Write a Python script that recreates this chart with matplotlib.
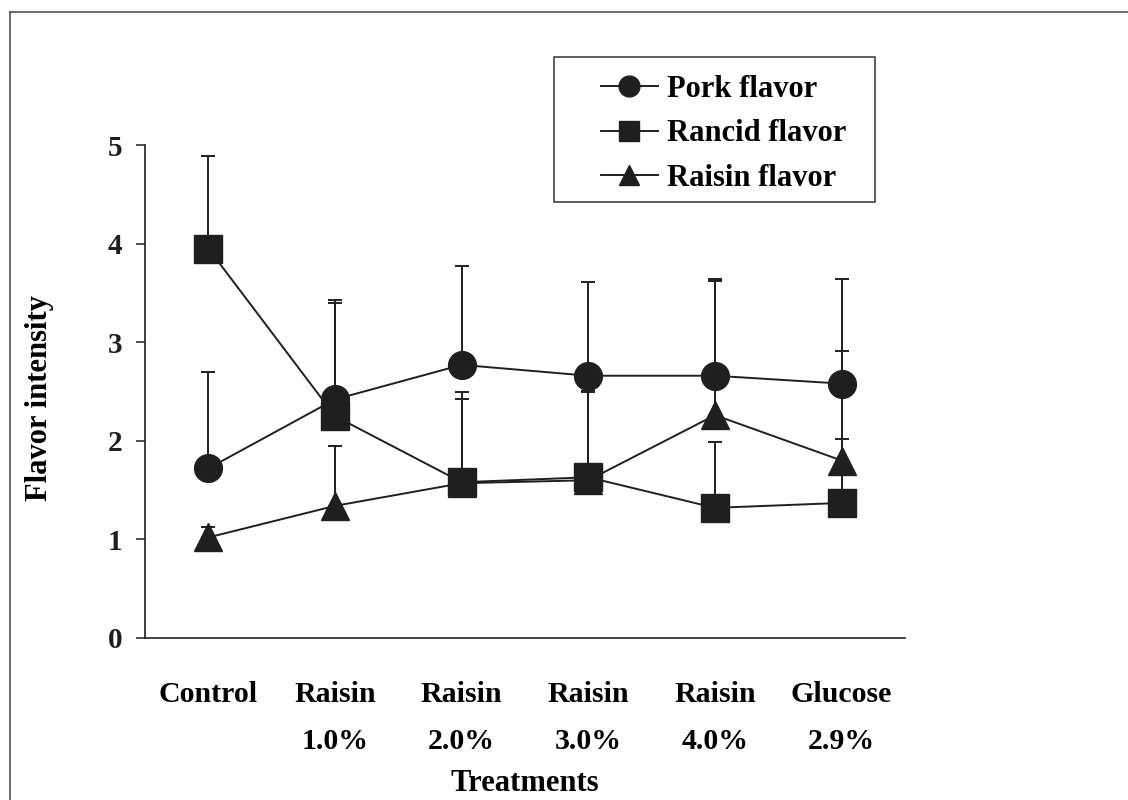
import matplotlib
matplotlib.use("Agg")
import matplotlib.pyplot as plt
from matplotlib.lines import Line2D
from matplotlib.patches import Rectangle
import numpy as np

# Treatments on the x axis
categories = ["Control", "Raisin\n1.0%", "Raisin\n2.0%", "Raisin\n3.0%", "Raisin\n4.0%", "Glucose\n2.9%"]

# Mean flavor intensity and upper error (SD) for each attribute
pork_mean = [1.72, 2.42, 2.77, 2.66, 2.66, 2.58]
pork_err = [0.98, 1.01, 1.00, 0.95, 0.98, 1.06]

rancid_mean = [3.95, 2.25, 1.58, 1.63, 1.32, 1.37]
rancid_err = [0.94, 1.15, 0.92, 0.88, 0.67, 0.65]

raisin_mean = [1.02, 1.34, 1.57, 1.60, 2.26, 1.80]
raisin_err = [0.11, 0.61, 0.85, 0.89, 1.36, 1.11]

series_names = ["Pork flavor", "Rancid flavor", "Raisin flavor"]
y_ticks = [0, 1, 2, 3, 4, 5]

FONT = "Liberation Serif"
INK = "#1f1f1f"

W, H = 1128, 800
fig = plt.figure(figsize=(W / 100, H / 100), dpi=100)
fig.patch.set_facecolor("white")

ax = fig.add_axes([145 / W, 1 - 638 / H, 760 / W, 493 / H])
x = np.arange(len(categories))

series = [
    (pork_mean, pork_err, "o"),
    (rancid_mean, rancid_err, "s"),
    (raisin_mean, raisin_err, "^"),
]

handles = []
for (mean, err, mk), name in zip(series, series_names):
    mean = np.asarray(mean)
    err = np.asarray(err)
    ax.errorbar(x, mean, yerr=[np.zeros_like(err), err], fmt="none",
                ecolor=INK, elinewidth=1.4, capsize=5, capthick=1.4, zorder=2)
    ln, = ax.plot(x, mean, color=INK, lw=1.4, marker=mk, markersize=20,
                  markerfacecolor=INK, markeredgecolor=INK, zorder=3, label=name)
    handles.append(ln)

ax.set_xlim(-0.5, 5.5)
ax.set_ylim(0, 5)
ax.set_yticks(y_ticks)
ax.set_yticklabels([str(t) for t in y_ticks], fontsize=21, fontweight="bold", family=FONT)
ax.set_xticks(x)
ax.set_xticklabels(categories, fontsize=21.5, fontweight="bold", family=FONT,
                   linespacing=1.95, ha="center", multialignment="center")
ax.tick_params(axis="x", length=0, pad=31)
ax.tick_params(axis="y", direction="out", length=6.5, width=1.1, pad=10, colors=INK)

for side in ("top", "right"):
    ax.spines[side].set_visible(False)
for side in ("left", "bottom"):
    ax.spines[side].set_linewidth(1.2)
    ax.spines[side].set_color(INK)
ax.spines["bottom"].set_bounds(-0.5, 5.5)

ax.set_xlabel("Treatments", fontsize=22, fontweight="bold", family=FONT, labelpad=10)
fig.text(40 / W, 1 - 398 / H, "Flavor intensity", rotation=90, ha="center", va="center",
         fontsize=22, fontweight="bold", family=FONT)

# Legend: frameless entries inside a drawn box
leg_handles = [Line2D([0], [0], color=INK, lw=1.4, marker=h.get_marker(), markersize=15,
                      markerfacecolor=INK, markeredgecolor=INK) for h in handles]
fig.legend(leg_handles, series_names, loc="upper left",
           bbox_to_anchor=(601 / W, 1 - 75 / H), frameon=False,
           prop={"family": FONT, "weight": "bold", "size": 22},
           handlelength=1.85, handletextpad=0.3, labelspacing=0.5,
           borderpad=0, borderaxespad=0)
fig.add_artist(Rectangle((554 / W, 1 - 202 / H), (875 - 554) / W, (202 - 57) / H,
                         transform=fig.transFigure, fill=False, edgecolor="#333333", lw=1.1))

# Page border (top and left)
fig.add_artist(Line2D([10 / W, 1.0], [1 - 12 / H, 1 - 12 / H], transform=fig.transFigure,
                      color="#444444", lw=1.1))
fig.add_artist(Line2D([10 / W, 10 / W], [0, 1 - 12 / H], transform=fig.transFigure,
                      color="#444444", lw=1.1))

fig.savefig("out.png", dpi=100, facecolor="white")
